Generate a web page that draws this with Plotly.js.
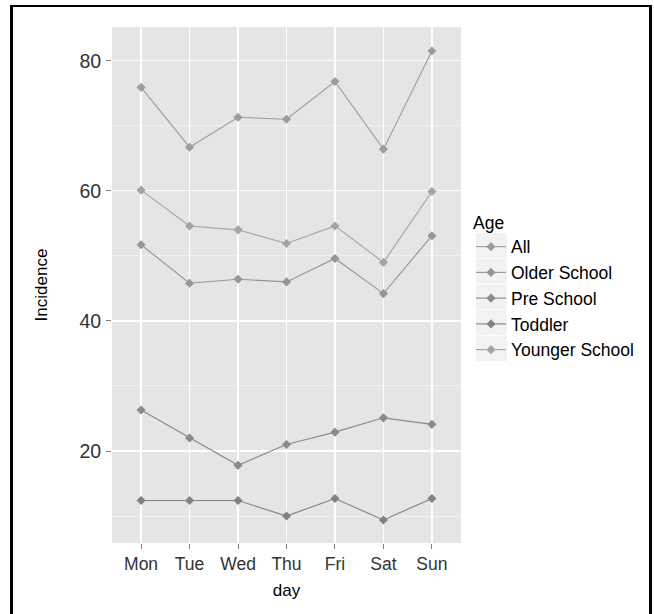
<!DOCTYPE html>
<html>
<head>
<meta charset="utf-8">
<script src="https://cdn.plot.ly/plotly-3.0.1.min.js"></script>
<style>
  html, body { margin: 0; padding: 0; background: #fff; overflow: hidden; }
  #chart { width: 654px; height: 614px; }
  #frame { position: absolute; left: 10px; top: 5px; width: 642px; height: 700px;
           border: 3px solid #000; border-top-width: 2px; box-sizing: border-box; pointer-events: none; }
</style>
</head>
<body>
<div id="chart"></div>
<div id="frame"></div>
<script>
const days = ['Mon', 'Tue', 'Wed', 'Thu', 'Fri', 'Sat', 'Sun'];
const ageGroups = ['All', 'Older School', 'Pre School', 'Toddler', 'Younger School'];
const allAges       = [75.9, 66.7, 71.3, 71.0, 76.8, 66.4, 81.5];
const olderSchool   = [51.7, 45.8, 46.4, 46.0, 49.6, 44.2, 53.1];
const preSchool     = [26.3, 22.0, 17.8, 21.0, 22.9, 25.1, 24.1];
const toddler       = [12.4, 12.4, 12.4, 10.0, 12.7, 9.4, 12.7];
const youngerSchool = [60.1, 54.6, 54.0, 51.9, 54.6, 49.0, 59.9];
const seriesValues = [allAges, olderSchool, preSchool, toddler, youngerSchool];
const seriesColors = ['#9c9c9c', '#959595', '#8a8a8a', '#818181', '#a3a3a3'];
const yTicks = [20, 40, 60, 80];
const yMinorTicks = [10, 30, 50, 70];

const traces = ageGroups.map((name, i) => ({
  type: 'scatter',
  mode: 'lines+markers',
  name: name,
  x: days,
  y: seriesValues[i],
  line: { color: seriesColors[i], width: 1.1 },
  marker: { symbol: 'diamond', size: 7, color: seriesColors[i] }
}));

// plot-area pixel helpers for legend key boxes
const L = 112, R = 461, T = 27, B = 543;
const px = v => (v - L) / (R - L);
const py = v => (B - v) / (B - T);
const keyShapes = ageGroups.map((n, i) => ({
  type: 'rect', xref: 'paper', yref: 'paper', layer: 'below',
  x0: px(476), x1: px(507), y0: py(233 + i * 25.8), y1: py(233 + i * 25.8 + 24.8),
  fillcolor: '#f2f2f2', line: { width: 0 }
}));

const layout = {
  width: 654, height: 614,
  margin: { l: L, r: 654 - R, t: T, b: 614 - B, pad: 0 },
  paper_bgcolor: '#ffffff',
  plot_bgcolor: '#e5e5e5',
  font: { family: 'Liberation Sans, Arial, sans-serif', color: '#000' },
  showlegend: true,
  legend: {
    x: px(471), xanchor: 'left', y: py(206), yanchor: 'top',
    bgcolor: 'rgba(0,0,0,0)',
    font: { size: 17.5, color: '#000' },
    title: { text: 'Age', font: { size: 17.5, color: '#000' } },
    tracegroupgap: 0,
    itemwidth: 30
  },
  shapes: keyShapes,
  xaxis: {
    type: 'category',
    categoryorder: 'array', categoryarray: days,
    range: [-0.6, 6.6],
    showgrid: true, gridcolor: '#ffffff', gridwidth: 1.3,
    zeroline: false, showline: false,
    ticks: 'outside', ticklen: 5, tickwidth: 1, tickcolor: '#7f7f7f',
    tickfont: { size: 17.5, color: '#333333' },
    title: { text: 'day', font: { size: 17, color: '#000' }, standoff: 11 },
    fixedrange: true
  },
  yaxis: {
    range: [5.86, 85.18],
    tickmode: 'array', tickvals: yTicks, ticktext: yTicks.map(String),
    showgrid: true, gridcolor: '#ffffff', gridwidth: 1.3,
    minor: { tickmode: 'array', tickvals: yMinorTicks, showgrid: true, gridcolor: '#f7f7f7', gridwidth: 0.6, ticks: '' },
    zeroline: false, showline: false,
    ticks: 'outside', ticklen: 5, tickwidth: 1, tickcolor: '#7f7f7f',
    tickfont: { size: 19.5, color: '#333333' },
    ticklabelstandoff: 1,
    title: { text: 'Incidence', font: { size: 17, color: '#000' }, standoff: 27 },
    fixedrange: true
  }
};

Plotly.newPlot('chart', traces, layout, { displayModeBar: false, staticPlot: true });
</script>
</body>
</html>
